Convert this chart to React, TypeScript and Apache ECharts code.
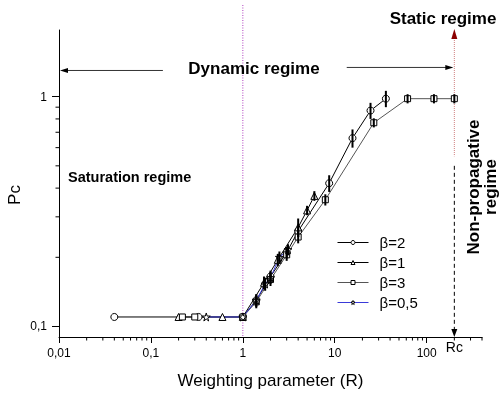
import { useEffect, useRef } from 'react';
import * as echarts from 'echarts';

// ---- axis extents ----
const X_MIN = 0.01;
const X_MAX = 400;
const Y_MIN = 0.09;
const Y_MAX = 1.95;
const RC = 200;

// ---- tick values ----
const xMinorTicks = [0.02, 0.03, 0.04, 0.05, 0.06, 0.07, 0.08, 0.09, 0.2, 0.3, 0.4, 0.5, 0.6, 0.7, 0.8, 0.9, 2, 3, 4, 5, 6, 7, 8, 9, 20, 30, 40, 50, 60, 70, 80, 90, 200, 300, 400];
const yMinorTicks = [0.2, 0.3, 0.4, 0.5, 0.6, 0.7, 0.8, 0.9];

// ---- series data ----
const beta2X = [0.04, 0.33, 1, 1.4, 2, 3, 4, 8.7, 15.6, 24.5, 36];
const beta2Y = [0.11, 0.11, 0.11, 0.13, 0.165, 0.21, 0.26, 0.42, 0.66, 0.87, 0.98];
const beta2Err = [0, 0, 0, 0.008, 0.01, 0.012, 0.015, 0.035, 0.06, 0.07, 0.08];

const beta1X = [0.2, 0.6, 1, 1.7, 2.4, 4, 5, 6];
const beta1Y = [0.11, 0.11, 0.11, 0.155, 0.195, 0.27, 0.32, 0.37];
const beta1Err = [0, 0, 0, 0.01, 0.012, 0.025, 0.015, 0.018];

const beta3X = [0.22, 0.3, 1, 1.4, 2, 3, 4, 7.9, 26.6, 62, 120, 200];
const beta3Y = [0.11, 0.11, 0.11, 0.128, 0.16, 0.205, 0.245, 0.356, 0.77, 0.98, 0.98, 0.98];
const beta3Err = [0, 0, 0, 0.008, 0.01, 0.012, 0.015, 0.02, 0.035, 0.045, 0.045, 0.045];

const beta05X = [0.4, 1, 1.4, 1.75, 2, 2.5, 3.1];
const beta05Y = [0.11, 0.11, 0.13, 0.153, 0.163, 0.2, 0.216];
const beta05Err = [0, 0, 0.008, 0.01, 0.01, 0.012, 0.012];

const FONT = 'Liberation Sans, Arial, Helvetica, sans-serif';
const STAR = 'path://M50,0 L61,35 L98,35 L68,57 L79,91 L50,70 L21,91 L32,57 L2,35 L39,35 Z';

const zip = (xs: number[], ys: number[]) => xs.map((x, i) => [x, ys[i]]);
const zip3 = (xs: number[], ys: number[], es: number[]) =>
  xs.map((x, i) => [x, ys[i], es[i]]).filter((d) => d[2] > 0);

export default function App() {
  const ref = useRef<HTMLDivElement>(null);
  useEffect(() => {
    const chart = echarts.init(ref.current!, null, { renderer: 'svg' });

    const lineSeries = (name: string, xs: number[], ys: number[], symbol: string, size: number, color: string) => ({
      name,
      type: 'line',
      data: zip(xs, ys),
      symbol,
      symbolSize: size,
      showSymbol: true,
      clip: false,
      lineStyle: { color, width: 1 },
      itemStyle: { color: '#fff', borderColor: '#000', borderWidth: 1 },
      z: 3,
    });

    const errSeries = (xs: number[], ys: number[], es: number[]) => ({
      type: 'custom',
      data: zip3(xs, ys, es),
      encode: { x: 0, y: 1 },
      clip: false,
      z: 4,
      silent: true,
      renderItem: (_p: any, api: any) => {
        const x = api.value(0);
        const y = api.value(1);
        const e = api.value(2);
        const a = api.coord([x, y - e]);
        const b = api.coord([x, y + e]);
        return {
          type: 'line',
          shape: { x1: a[0], y1: a[1], x2: b[0], y2: b[1] },
          style: { stroke: '#000', lineWidth: 2 },
        };
      },
    });

    const tickSeries = (vals: number[], isX: boolean) => ({
      type: 'custom',
      data: vals.map((v) => (isX ? [v, Y_MIN] : [X_MIN, v])),
      encode: { x: 0, y: 1 },
      clip: false,
      silent: true,
      z: 1,
      renderItem: (_p: any, api: any) => {
        const p = api.coord([api.value(0), api.value(1)]);
        return {
          type: 'line',
          shape: isX
            ? { x1: p[0], y1: p[1], x2: p[0], y2: p[1] + 3.5 }
            : { x1: p[0], y1: p[1], x2: p[0] - 3.5, y2: p[1] },
          style: { stroke: '#000', lineWidth: 1 },
        };
      },
    });

    const fmt = (v: number) => String(Number(v.toPrecision(6))).replace('.', ',');

    chart.setOption({
      animation: false,
      textStyle: { fontFamily: FONT },
      grid: { left: 59, right: 18, top: 30, bottom: 57, containLabel: false },
      legend: {
        data: ['β=2', 'β=1', 'β=3', 'β=0,5'],
        orient: 'vertical',
        left: 332,
        top: 230,
        itemWidth: 31,
        itemHeight: 5,
        itemGap: 5,
        itemStyle: { color: '#fff', borderColor: '#000', borderWidth: 1 },
        lineStyle: { width: 1 },
        textStyle: { fontSize: 15, color: '#000', fontFamily: FONT, padding: [0, 0, 0, 6] },
        selectedMode: false,
      },
      xAxis: {
        type: 'log',
        logBase: 10,
        min: X_MIN,
        max: X_MAX,
        name: 'Weighting parameter (R)',
        nameLocation: 'middle',
        nameGap: 35,
        nameTextStyle: { fontSize: 17, color: '#000', fontFamily: FONT },
        axisLine: { show: true, lineStyle: { color: '#000', width: 1 } },
        axisTick: { show: true, length: 6, lineStyle: { color: '#000' } },
        axisLabel: { color: '#000', fontSize: 12, margin: 10, formatter: fmt, fontFamily: FONT, showMaxLabel: false },
        splitLine: { show: false },
      },
      yAxis: {
        type: 'log',
        logBase: 10,
        min: Y_MIN,
        max: Y_MAX,
        axisLine: { show: true, lineStyle: { color: '#000', width: 1 } },
        axisTick: { show: true, length: 7, lineStyle: { color: '#000' } },
        axisLabel: { color: '#000', fontSize: 12, margin: 12, formatter: fmt, fontFamily: FONT, showMaxLabel: false, showMinLabel: false },
        splitLine: { show: false },
      },
      series: [
        tickSeries(xMinorTicks, true),
        tickSeries(yMinorTicks, false),
        lineSeries('β=2', beta2X, beta2Y, 'circle', 7, '#000'),
        lineSeries('β=1', beta1X, beta1Y, 'triangle', 7, '#000'),
        lineSeries('β=3', beta3X, beta3Y, 'rect', 6, '#555'),
        lineSeries('β=0,5', beta05X, beta05Y, STAR, 8, '#3a3ad8'),
        errSeries(beta2X, beta2Y, beta2Err),
        errSeries(beta1X, beta1Y, beta1Err),
        errSeries(beta3X, beta3Y, beta3Err),
        errSeries(beta05X, beta05Y, beta05Err),
      ],
    });

    const P = (x: number, y: number) => chart.convertToPixel({ gridIndex: 0 }, [x, y]) as number[];
    const left = P(X_MIN, Y_MIN)[0];
    const bottom = P(X_MIN, Y_MIN)[1];
    const top = P(X_MIN, Y_MAX)[1];
    const x1 = P(1, 1)[0];
    const xRc = P(RC, 1)[0];
    const yRedEnd = P(RC, 0.55)[1];
    const yDashStart = P(RC, 0.5)[1];
    const yLeftArrow = P(1, 1.3)[1];
    const yRightArrow = P(1, 1.34)[1];
    const xLeftStart = P(0.135, 1)[0];
    const xRightStart = P(13.5, 1)[0];

    const txt = (text: string, x: number, y: number, size: number, bold: boolean, align = 'center', rotation = 0) => ({
      type: 'text',
      x,
      y,
      rotation,
      style: {
        text,
        fontSize: size,
        fontWeight: bold ? 'bold' : 'normal',
        fontFamily: FONT,
        fill: '#000',
        align,
        verticalAlign: 'middle',
      },
      z: 10,
    });

    chart.setOption({
      graphic: [
        // x = 1 dotted boundary
        { type: 'line', shape: { x1: x1, y1: 5, x2: x1, y2: bottom }, style: { stroke: '#b040c0', lineWidth: 1, lineDash: [1, 1.5] }, z: 1 },
        // Rc upper (static) dotted line with arrow
        { type: 'line', shape: { x1: xRc, y1: top + 8, x2: xRc, y2: yRedEnd }, style: { stroke: '#d08080', lineWidth: 1, lineDash: [1, 1] }, z: 1 },
        { type: 'polygon', shape: { points: [[xRc, top - 1], [xRc - 3, top + 9], [xRc + 3, top + 9]] }, style: { fill: '#8b0000' }, z: 5 },
        // Rc lower dashed line with arrow
        { type: 'line', shape: { x1: xRc, y1: yDashStart, x2: xRc, y2: bottom - 7 }, style: { stroke: '#000', lineWidth: 1, lineDash: [4, 3] }, z: 1 },
        { type: 'polygon', shape: { points: [[xRc, bottom], [xRc - 3, bottom - 8], [xRc + 3, bottom - 8]] }, style: { fill: '#000' }, z: 5 },
        // dynamic regime arrows
        { type: 'line', shape: { x1: xLeftStart, y1: yLeftArrow, x2: left + 8, y2: yLeftArrow }, style: { stroke: '#333', lineWidth: 1 }, z: 5 },
        { type: 'polygon', shape: { points: [[left + 1, yLeftArrow], [left + 9, yLeftArrow - 2.5], [left + 9, yLeftArrow + 2.5]] }, style: { fill: '#000' }, z: 5 },
        { type: 'line', shape: { x1: xRightStart, y1: yRightArrow, x2: xRc - 8, y2: yRightArrow }, style: { stroke: '#333', lineWidth: 1 }, z: 5 },
        { type: 'polygon', shape: { points: [[xRc - 1, yRightArrow], [xRc - 9, yRightArrow - 2.5], [xRc - 9, yRightArrow + 2.5]] }, style: { fill: '#000' }, z: 5 },
        // texts
        txt('Dynamic regime', 254, 68, 17, true),
        txt('Static regime', 443, 18, 17, true),
        txt('Saturation regime', 68, 177, 14.5, true, 'left'),
        txt('Non-propagative', 473, 187, 17, true, 'center', Math.PI / 2),
        txt('regime', 490, 187, 17, true, 'center', Math.PI / 2),
        txt('Rc', xRc, bottom + 10, 14, false),
        txt('Pc', 14, 195, 17, false, 'center', Math.PI / 2),
      ],
    });

    return () => chart.dispose();
  }, []);
  return <div ref={ref} style={{ position: 'fixed', left: 0, top: 0, width: 500, height: 394 }} />;
}
